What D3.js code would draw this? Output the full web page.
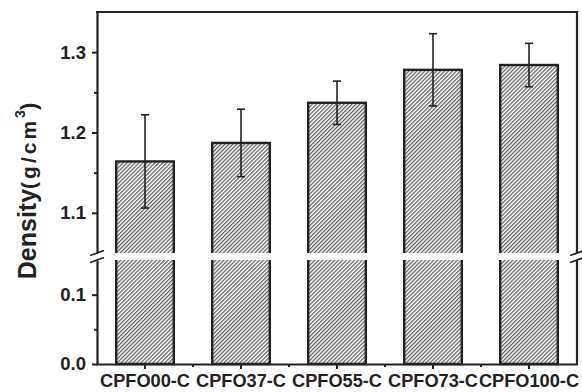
<!DOCTYPE html>
<html>
<head>
<meta charset="utf-8">
<script src="https://cdn.jsdelivr.net/npm/d3@7"></script>
<style>
  body { margin: 0; background: #fff; }
  text { font-family: "Liberation Sans", Arial, sans-serif; font-weight: bold; fill: #222; }
</style>
</head>
<body>
<div class="chart"></div>
<script>
// data
const samples = ["CPFO00-C", "CPFO37-C", "CPFO55-C", "CPFO73-C", "CPFO100-C"];
const density = [1.164, 1.187, 1.237, 1.278, 1.284];
const densityErr = [0.058, 0.042, 0.027, 0.045, 0.027];
const upperTicks = [1.1, 1.2, 1.3];
const upperMinor = [1.15, 1.25];
const lowerTicks = [0.0, 0.1];
const lowerMinor = [0.05];

let svgWidth = 582;
let svgHeight = 392;

// plot box and the axis break
const box = {left: 97, right: 577, top: 12, bottom: 364};
const breakTop = 253, breakBottom = 260;

let svg = d3.select(".chart")
            .append("svg")
            .attr("width", svgWidth)
            .attr("height", svgHeight);

// hatch fill
let defs = svg.append("defs");
defs.append("pattern")
    .attr("id", "hatch")
    .attr("patternUnits", "userSpaceOnUse")
    .attr("width", 2.8)
    .attr("height", 2.8)
    .attr("patternTransform", "rotate(45)")
    .append("line")
    .attr("x1", 0.7).attr("y1", 0)
    .attr("x2", 0.7).attr("y2", 2.8)
    .attr("stroke", "#333")
    .attr("stroke-width", 1);

// scales
let x = d3.scaleBand()
          .domain(samples)
          .range([box.left, box.right])
          .paddingInner(0.4)
          .paddingOuter(0.2);

let yUp = d3.scaleLinear().domain([1.05, 1.35]).range([breakTop, box.top]);
let yLow = d3.scaleLinear().domain([0, 0.15]).range([box.bottom, breakBottom]);

// bars: top from the upper scale, bottom at zero of the lower scale
svg.append("g").selectAll("rect")
   .data(samples)
   .enter().append("rect")
   .attr("x", d => x(d))
   .attr("y", (d, i) => yUp(density[i]))
   .attr("width", x.bandwidth())
   .attr("height", (d, i) => yLow(0) - yUp(density[i]))
   .attr("fill", "url(#hatch)")
   .attr("stroke", "#222")
   .attr("stroke-width", 2.4);

// white band for the break
svg.append("rect")
   .attr("x", box.left + 1)
   .attr("y", breakTop)
   .attr("width", box.right - box.left - 2)
   .attr("height", breakBottom - breakTop)
   .attr("fill", "#fff");

// error bars
let err = svg.append("g").attr("stroke", "#222").attr("stroke-width", 1.6);
samples.forEach((d, i) => {
  let cx = x(d) + x.bandwidth() / 2;
  let hi = yUp(density[i] + densityErr[i]);
  let lo = yUp(density[i] - densityErr[i]);
  err.append("line").attr("x1", cx).attr("x2", cx).attr("y1", hi).attr("y2", lo);
  err.append("line").attr("x1", cx - 4).attr("x2", cx + 4).attr("y1", hi).attr("y2", hi);
  err.append("line").attr("x1", cx - 4).attr("x2", cx + 4).attr("y1", lo).attr("y2", lo);
});

// axes
function styleAxis(g) {
  g.select(".domain").attr("stroke", "#222").attr("stroke-width", 2.2);
  g.selectAll(".tick line").attr("stroke", "#222").attr("stroke-width", 2);
  g.selectAll("text").attr("fill", "#222").style("font-size", "18.5px")
   .style("font-family", "'Liberation Sans', Arial, sans-serif").style("font-weight", "bold");
}

let upAxis = svg.append("g")
   .attr("transform", `translate(${box.left},0)`)
   .call(d3.axisLeft(yUp).tickValues(upperTicks).tickFormat(d3.format(".1f"))
           .tickSize(5).tickSizeOuter(0).tickPadding(6));
upAxis.call(styleAxis);
svg.append("g")
   .attr("transform", `translate(${box.left},0)`)
   .call(d3.axisLeft(yUp).tickValues(upperMinor).tickFormat("").tickSize(3).tickSizeOuter(0))
   .call(g => g.select(".domain").remove())
   .call(styleAxis);

let lowAxis = svg.append("g")
   .attr("transform", `translate(${box.left},0)`)
   .call(d3.axisLeft(yLow).tickValues(lowerTicks).tickFormat(d3.format(".1f"))
           .tickSize(5).tickSizeOuter(0).tickPadding(6));
lowAxis.call(styleAxis);
svg.append("g")
   .attr("transform", `translate(${box.left},0)`)
   .call(d3.axisLeft(yLow).tickValues(lowerMinor).tickFormat("").tickSize(3).tickSizeOuter(0))
   .call(g => g.select(".domain").remove())
   .call(styleAxis);

// top and right side, right split at the break
let frame = svg.append("g").attr("stroke", "#222").attr("stroke-width", 2.2).attr("fill", "none");
frame.append("line").attr("x1", box.left - 1).attr("x2", box.right + 1).attr("y1", box.top).attr("y2", box.top);
frame.append("line").attr("x1", box.right).attr("x2", box.right).attr("y1", box.top).attr("y2", breakTop);
frame.append("line").attr("x1", box.right).attr("x2", box.right).attr("y1", breakBottom).attr("y2", box.bottom);

// break marks
[box.left, box.right].forEach(ax => {
  [breakTop, breakBottom].forEach(by => {
    frame.append("line")
         .attr("x1", ax - 7).attr("y1", by + 2.5)
         .attr("x2", ax + 7).attr("y2", by - 2.5)
         .attr("stroke-width", 1.8);
  });
});

// bottom axis
let xAxis = svg.append("g")
   .attr("transform", `translate(0,${box.bottom})`)
   .call(d3.axisBottom(x).tickSize(5).tickSizeOuter(0).tickPadding(5));
xAxis.call(styleAxis);
xAxis.selectAll("text").style("font-size", "18.2px");
xAxis.select(".domain").attr("d", `M${box.left - 1},0.5H${box.right + 1}`);

// minor ticks between the categories
let step = x.step();
svg.append("g").selectAll("line")
   .data(samples.slice(0, -1))
   .enter().append("line")
   .attr("x1", d => x(d) + x.bandwidth() / 2 + step / 2)
   .attr("x2", d => x(d) + x.bandwidth() / 2 + step / 2)
   .attr("y1", box.bottom)
   .attr("y2", box.bottom + 3)
   .attr("stroke", "#222")
   .attr("stroke-width", 2);

// y title
let title = svg.append("text")
   .attr("transform", "translate(36,191) rotate(-90)")
   .attr("text-anchor", "middle");
title.append("tspan").text("Density").style("font-size", "25px");
title.append("tspan").text("(g/cm").style("font-size", "21px").style("letter-spacing", "3px");
title.append("tspan").text("3").style("font-size", "14px").attr("dy", -11);
title.append("tspan").text(")").style("font-size", "22px").attr("dy", 11);
</script>
</body>
</html>
